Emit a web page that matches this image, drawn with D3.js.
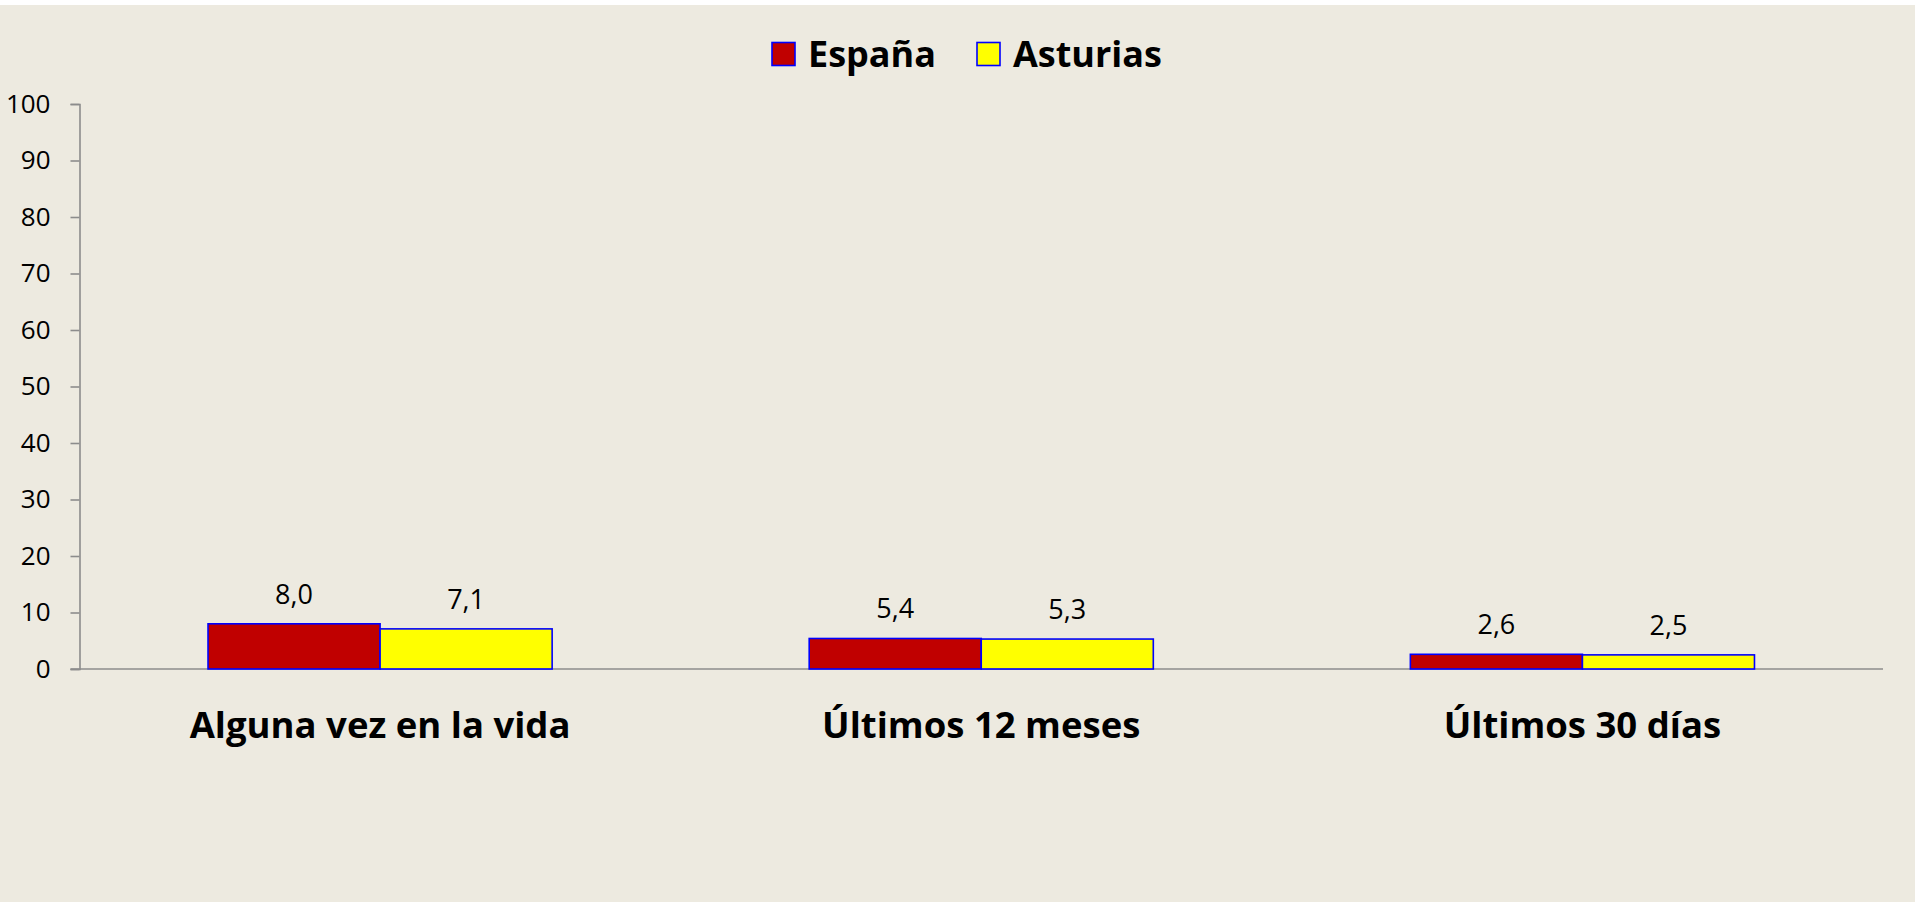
<!DOCTYPE html>
<html>
<head>
<meta charset="utf-8">
<script src="https://cdn.jsdelivr.net/npm/d3@7"></script>
<style>
  body { margin: 0; background: #ffffff; }
  svg { display: block; }
</style>
</head>
<body>
<div id="chart"></div>
<script>
// chart data
const categories = ["Alguna vez en la vida", "Últimos 12 meses", "Últimos 30 días"];
const series = ["España", "Asturias"];
const espana = [8.0, 5.4, 2.6];
const asturias = [7.1, 5.3, 2.5];
const yTicks = [0, 10, 20, 30, 40, 50, 60, 70, 80, 90, 100];

const colors = { "España": "#C00000", "Asturias": "#FFFF00" };
const values = { "España": espana, "Asturias": asturias };

const W = 1915, H = 902;
const margin = { top: 104, right: 32, bottom: 233, left: 79.5 };
const width = W - margin.left - margin.right,
      height = H - margin.top - margin.bottom;

const svg = d3.select("#chart").append("svg")
    .attr("width", W)
    .attr("height", H);

// background (white strip on top like the original)
svg.append("rect")
    .attr("x", 0).attr("y", 5)
    .attr("width", W).attr("height", H - 5)
    .style("fill", "#EDEAE0");

const g = svg.append("g")
    .attr("transform", `translate(${margin.left},${margin.top})`);

const x0 = d3.scaleBand()
    .domain(categories)
    .range([0, width])
    .padding(0);

const x1 = d3.scaleBand()
    .domain(series)
    .range([0, x0.bandwidth()])
    .paddingInner(0)
    .paddingOuter(0.747);

const y = d3.scaleLinear()
    .domain([0, 100])
    .range([height, 0]);

// y axis
const yAxis = g.append("g")
    .call(d3.axisLeft(y).tickValues(yTicks).tickSize(9).tickPadding(20).tickFormat(d3.format("d")));
yAxis.select(".domain").attr("stroke", "#8C8C8C").attr("stroke-width", 1.6);
yAxis.selectAll(".tick line").attr("stroke", "#8C8C8C").attr("stroke-width", 1.6);
yAxis.selectAll(".tick text")
    .attr("fill", "#000")
    .style("font-family", "'Open Sans', sans-serif")
    .style("font-size", "26px");

// x axis line (extends a bit left like the zero tick)
g.append("line")
    .attr("x1", -9).attr("x2", width)
    .attr("y1", y(0)).attr("y2", y(0))
    .attr("stroke", "#8C8C8C")
    .attr("stroke-width", 1.6);

// bars
const groups = g.selectAll(".grp")
    .data(categories)
    .enter().append("g")
    .attr("transform", d => `translate(${x0(d)},0)`);

groups.selectAll("rect")
    .data((c, i) => series.map(s => ({ s: s, v: values[s][i] })))
    .enter().append("rect")
    .attr("x", d => x1(d.s))
    .attr("y", d => y(d.v))
    .attr("width", x1.bandwidth())
    .attr("height", d => y(0) - y(d.v))
    .style("fill", d => colors[d.s])
    .attr("stroke", "#0000FF")
    .attr("stroke-width", 1.6);

groups.selectAll(".lbl")
    .data((c, i) => series.map(s => ({ s: s, v: values[s][i] })))
    .enter().append("text")
    .attr("x", d => x1(d.s) + x1.bandwidth() / 2)
    .attr("y", d => y(d.v) - 20)
    .attr("text-anchor", "middle")
    .style("font-family", "'Open Sans', sans-serif")
    .style("font-size", "27px")
    .attr("fill", "#000")
    .text(d => d.v.toFixed(1).replace(".", ","));

// category labels
g.selectAll(".cat")
    .data(categories)
    .enter().append("text")
    .attr("x", d => x0(d) + x0.bandwidth() / 2)
    .attr("y", height + 69)
    .attr("text-anchor", "middle")
    .style("font-family", "'Open Sans', sans-serif")
    .style("font-weight", "bold")
    .style("font-size", "36.5px")
    .attr("fill", "#000")
    .text(d => d);

// legend
const legendX = [772, 977];
const legend = svg.append("g");
series.forEach(function (s, i) {
  legend.append("rect")
      .attr("x", legendX[i]).attr("y", 42.5)
      .attr("width", 23).attr("height", 23)
      .style("fill", colors[s])
      .attr("stroke", "#0000FF")
      .attr("stroke-width", 1.6);
  legend.append("text")
      .attr("x", legendX[i] + 36)
      .attr("y", 67)
      .style("font-family", "'Open Sans', sans-serif")
      .style("font-weight", "bold")
      .style("font-size", "36px")
      .attr("fill", "#000")
      .text(s);
});
</script>
</body>
</html>
